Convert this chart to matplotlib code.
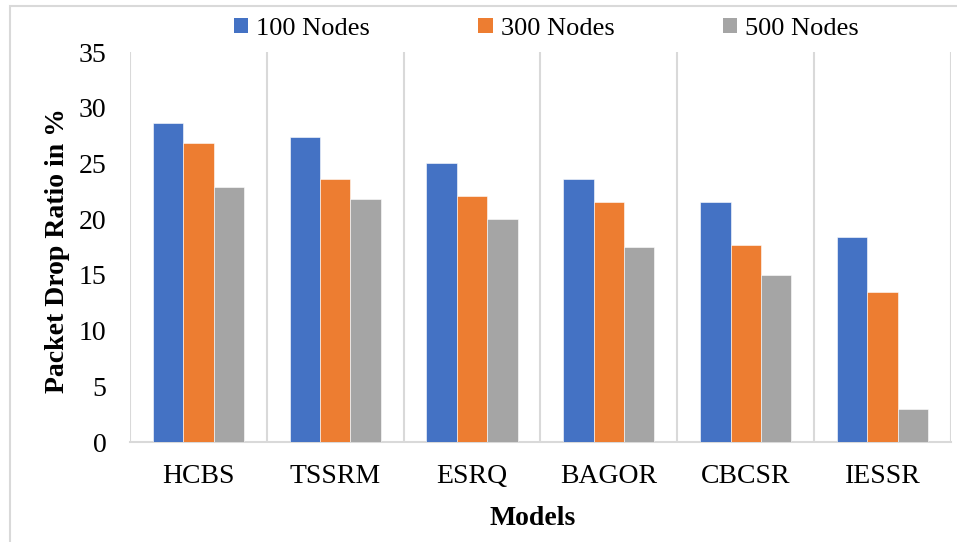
import numpy as np
import matplotlib.pyplot as plt
from matplotlib.patches import Patch, Rectangle

# Daten
models = ['HCBS', 'TSSRM', 'ESRQ', 'BAGOR', 'CBCSR', 'IESSR']
series_names = ['100 Nodes', '300 Nodes', '500 Nodes']
nodes_100 = [28.6, 27.4, 25.0, 23.6, 21.5, 18.4]
nodes_300 = [26.8, 23.6, 22.1, 21.5, 17.7, 13.5]
nodes_500 = [22.9, 21.8, 20.0, 17.5, 15.0, 3.0]
colors = ['#4472c4', '#ed7d31', '#a5a5a5']

plt.rcParams['font.family'] = ['Liberation Serif', 'DejaVu Serif']

fig = plt.figure(figsize=(9.57, 5.42), dpi=100)
ax = fig.add_axes([0.1358, 0.1845, 0.8579, 0.7195])

x = np.arange(len(models))
w = 0.222
for i, (vals, col) in enumerate(zip([nodes_100, nodes_300, nodes_500], colors)):
    ax.bar(x + (i - 1) * w, vals, width=w, color=col, edgecolor='white', linewidth=0.4, zorder=3)

ax.set_xlim(-0.5, len(models) - 0.5)
ax.set_ylim(0, 35)
ax.set_yticks(np.arange(0, 36, 5))
ax.set_xticks(x)
ax.set_xticklabels(models)
ax.set_xticks(np.arange(-0.5, len(models), 1), minor=True)
ax.grid(which='minor', axis='x', color='#d9d9d9', linewidth=1.5, zorder=0)
ax.tick_params(which='both', length=0)
ax.tick_params(axis='y', labelsize=20, pad=17)
ax.tick_params(axis='x', labelsize=20, pad=16)

for s in ['top', 'right', 'left']:
    ax.spines[s].set_visible(False)
ax.spines['bottom'].set_color('#d9d9d9')
ax.spines['bottom'].set_linewidth(1.5)

ax.set_ylabel('Packet Drop Ratio in %', fontsize=20, fontweight='bold')
ax.yaxis.set_label_coords(-0.073, 0.49)
ax.set_xlabel('Models', fontsize=20, fontweight='bold')
ax.xaxis.set_label_coords(0.49, -0.165)

handles = [Patch(facecolor=c, edgecolor='none') for c in colors]
fig.legend(handles, series_names, loc='center', bbox_to_anchor=(0.571, 0.947),
           ncol=3, frameon=False, fontsize=19, handlelength=0.55, handleheight=0.55,
           handletextpad=0.3, columnspacing=4.1)

# Rahmen (nur oben und links sichtbar)
fig.patches.append(Rectangle((10 / 957, -0.1), 1.2, 1.1 - 6 / 542, transform=fig.transFigure,
                             fill=False, edgecolor='#d9d9d9', linewidth=1.5))

plt.savefig('out.png', dpi=100)
